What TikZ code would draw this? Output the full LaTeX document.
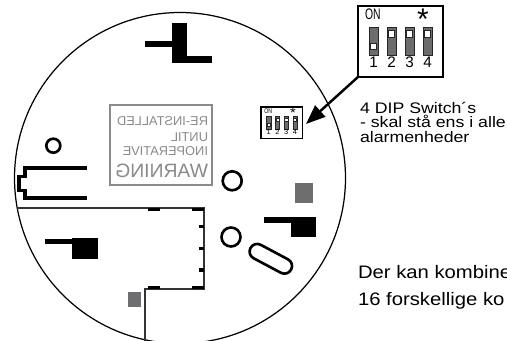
\documentclass[tikz,border=0pt]{standalone}
\usepackage{graphicx}
\usepackage{fontspec}
\setmainfont{Liberation Sans}
\usetikzlibrary{arrows.meta}
\definecolor{wgray}{HTML}{8A8A8A}
\definecolor{sqgray}{HTML}{6E6E70}
\definecolor{slotgray}{HTML}{6C6C6C}
\newcommand\dipswitch[3]{%
  \node[draw, line width=#2, minimum width=1.7cm, minimum height=1.42cm, anchor=north west, transform shape] (#1) at (0,0) {};
  \node[dtext, xscale=0.68, anchor=base west] (#1-on) at (7,14) {ON};
  \node[dstar, anchor=north] (#1-star) at (65,3.3) {*};
  \foreach \cx/\ky/\d in {15.5/37/1, 33.5/24.5/2, 51.5/24.5/3, 69.5/24.5/4}{%
    \filldraw[fill=slotgray, draw=black!85, line width=#3] (\cx-4.5,21) rectangle (\cx+4.5,49);
    \filldraw[fill=white, draw=black!85, line width=#3] (\cx-3.3,\ky) rectangle (\cx+3.3,\ky+6.5);
    \node[dtext, anchor=base] (#1-n\d) at (\cx,62) {\d};
  }%
}
\newcommand\mirr[1]{\scalebox{-1}[1]{#1}}
\begin{document}
\begin{tikzpicture}[x=0.02cm, y=-0.02cm,
  every node/.style={inner sep=0pt, outer sep=0pt},
  blk/.style={fill=black},
  gsq/.style={fill=sqgray},
  ring/.style={draw=black, line width=1.5pt},
  outl/.style={draw=black!80, line width=0.6pt},
  tickmark/.style={fill=black},
  wtext/.style={text=wgray, font=\fontsize{7.3pt}{8pt}\selectfont, anchor=base east},
  dtext/.style={font=\fontsize{8.7pt}{10pt}\selectfont, transform shape},
  dstar/.style={font=\fontsize{17pt}{18pt}\selectfont, transform shape},
  rtext/.style={font=\fontsize{8.7pt}{10pt}\selectfont, xscale=1.16, transform shape, anchor=base west},
  btext/.style={font=\fontsize{10.3pt}{12pt}\selectfont, xscale=1.12, transform shape, anchor=base west}
]
\useasboundingbox (0,0) rectangle (507,341);
\clip (0,0) rectangle (507,341);
\fill[white] (0,0) rectangle (507,341);

% main circle
\draw[black, line width=0.7pt] (180,178) circle[radius=165.5*0.02cm];

% top T-shape
\fill[blk] (145,41.5) rectangle (172,47.5);
\fill[blk] (171.7,22.7) rectangle (186.8,62.7);
\fill[blk] (186.5,56) rectangle (211.7,62.7);

% warning label (mirrored print)
\node[draw=wgray, line width=0.8pt, minimum width=2.04cm, minimum height=1.6cm, anchor=north west] (warnbox) at (110,105) {};
\node[wtext] (w1) at (208,126) {\mirr{RE-INSTALLED}};
\node[wtext] (w2) at (208,141) {\mirr{UNTIL}};
\node[wtext] (w3) at (208,155.5) {\mirr{INOPERATIVE}};
\node[wtext, font=\fontsize{11pt}{12pt}\selectfont] (w4) at (208,177.5) {\mirr{WARNING}};

% left bracket
\draw[black, line width=2.2pt] (87,168) -- (25.3,168) -- (25.3,176.5) -- (18.7,176.5) -- (18.7,190.5) -- (25.3,190.5) -- (25.3,198) -- (87,198);

% small circles
\draw[ring] (53.3,145.7) circle[radius=7*0.02cm];
\draw[ring] (232.2,180.8) circle[radius=9.5*0.02cm];
\draw[ring] (231,237) circle[radius=9.5*0.02cm];

% oval
\draw[ring, shift={(270.8,258.8)}, rotate=-28, rounded corners=0.15cm] (-23,-7.6) rectangle (23,7.6);

% lower outline
\draw[outl] (17.2,208) -- (204,208) -- (204,289) -- (145,289) -- (145,341);
\fill[tickmark] (148,208) rectangle (160,210.7);
\fill[tickmark] (192,208) rectangle (204,210.7);
\fill[tickmark] (199.3,225) rectangle (204,228.3);
\fill[tickmark] (199.3,247) rectangle (204,250.3);
\fill[tickmark] (199.3,268.3) rectangle (204,271.6);
\fill[tickmark] (148,286.3) rectangle (160,289);
\fill[tickmark] (192,286.3) rectangle (204,289);

% lower-left T block
\fill[blk] (45,239) rectangle (72,244);
\fill[blk] (71.7,237.7) rectangle (97.7,258.7);

% gray squares
\fill[gsq] (128,292) rectangle (141,307);
\fill[gsq] (295,182.7) rectangle (312.7,203.3);

% right T block
\fill[blk] (264,217.3) rectangle (291,223.3);
\fill[blk] (290.7,216.7) rectangle (316,236.7);

% big DIP switch
\begin{scope}[shift={(358,6)}]
  \dipswitch{bigdip}{1.1pt}{0.5pt}
\end{scope}
% small DIP switch on board
\begin{scope}[shift={(261,107)}, xscale=0.49, yscale=0.45]
  \dipswitch{smalldip}{0.6pt}{0.3pt}
\end{scope}

% arrow
\coordinate (tip) at (306,124);
\draw[line width=1.4pt, -{Triangle[length=11pt,width=8.5pt]}] (bigdip.south west) -- (tip);

% texts
\node[rtext] (t1) at (360,113) {4 DIP Switch´s};
\node[rtext] (t2) at (360,127.5) {- skal stå ens i alle};
\node[rtext] (t3) at (360,142) {alarmenheder};
\node[btext] (b1) at (358,278) {Der kan kombine};
\node[btext] (b2) at (358,305.5) {16 forskellige ko};
\end{tikzpicture}
\end{document}
